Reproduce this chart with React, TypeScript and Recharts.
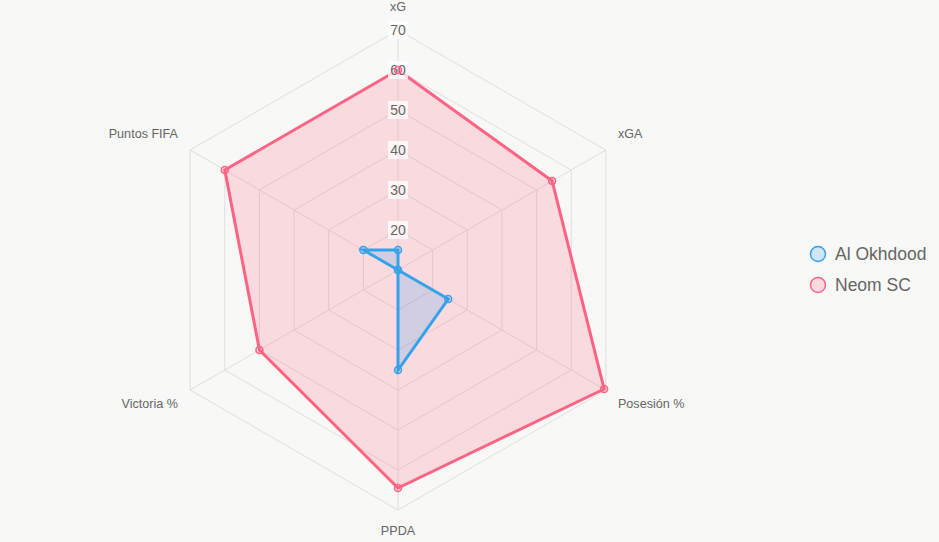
import React from 'react';
import { RadarChart, Radar, PolarGrid, PolarAngleAxis, PolarRadiusAxis } from 'recharts';

const metrics = ['xG', 'xGA', 'Posesión %', 'PPDA', 'Victoria %', 'Puntos FIFA'];
const alOkhdood = [15, 10, 24.5, 35, 10, 20];
const neomSC = [60, 54.5, 69.5, 64.5, 50, 60];
const radiusTicks = [10, 20, 30, 40, 50, 60, 70];
const seriesNames = ['Al Okhdood', 'Neom SC'];
const seriesColors = ['54,162,235', '255,99,132'];

const data = metrics.map((m, i) => ({ metric: m, alOkhdood: alOkhdood[i], neom: neomSC[i] }));

const W = 939;
const H = 542;
const CX = 398;
const CY = 270;
const R = 240;

const AngleTick = (props: any) => {
  const { payload } = props;
  const ang = (payload.coordinate * Math.PI) / 180;
  const d = R + 14;
  const c = Math.cos(ang);
  const s = Math.sin(ang);
  const px = CX + d * c;
  const py = CY - d * s;
  const anchor = Math.abs(c) < 0.01 ? 'middle' : c > 0 ? 'start' : 'end';
  const ty = s > 0.01 ? py - 9.5 : s < -0.01 ? py + 7 : py;
  return (
    <text x={px} y={ty} textAnchor={anchor} dominantBaseline="central" fill="#666" fontSize={12.6} fontFamily="Liberation Sans, Arial, sans-serif">
      {payload.value}
    </text>
  );
};

const RadiusTick = (props: any) => {
  const { x, y, payload } = props;
  if (payload.value === radiusTicks[0]) return <g />;
  const label = String(payload.value);
  const w = label.length * 8 + 4;
  return (
    <g>
      <rect x={x - w / 2} y={y - 9} width={w} height={18} fill="rgba(255,255,255,0.75)" />
      <text x={x} y={y} textAnchor="middle" dominantBaseline="central" fill="#666" fontSize={14} fontFamily="Liberation Sans, Arial, sans-serif">
        {label}
      </text>
    </g>
  );
};

const makeDot = (rgb: string) => (props: any) => {
  const { cx, cy, key } = props;
  return <circle key={key} cx={cx} cy={cy} r={3.5} fill={`rgba(${rgb},0.2)`} stroke={`rgb(${rgb})`} strokeWidth={1.5} />;
};

export default function App() {
  return (
    <div style={{ position: 'fixed', left: 0, top: 0, width: W, height: H, background: '#f8f8f7', fontFamily: 'Liberation Sans, Arial, sans-serif' }}>
      <RadarChart width={W} height={H} data={data} cx={CX} cy={CY} outerRadius={R} margin={{ top: 0, right: 0, bottom: 0, left: 0 }}>
        <PolarGrid gridType="polygon" stroke="#dedede" strokeWidth={1} />
        <PolarAngleAxis dataKey="metric" tick={<AngleTick />} tickLine={false} axisLine={false} />
        <PolarRadiusAxis angle={90} domain={[10, 70]} ticks={radiusTicks} tickCount={7} axisLine={false} tickLine={false} tick={<RadiusTick />} />
        <Radar
          name={seriesNames[1]}
          dataKey="neom"
          stroke={`rgb(${seriesColors[1]})`}
          strokeWidth={3}
          fill={`rgb(${seriesColors[1]})`}
          fillOpacity={0.2}
          dot={makeDot(seriesColors[1])}
          isAnimationActive={false}
        />
        <Radar
          name={seriesNames[0]}
          dataKey="alOkhdood"
          stroke={`rgb(${seriesColors[0]})`}
          strokeWidth={3}
          fill={`rgb(${seriesColors[0]})`}
          fillOpacity={0.2}
          dot={makeDot(seriesColors[0])}
          isAnimationActive={false}
        />
      </RadarChart>
      <svg style={{ position: 'absolute', left: 800, top: 235 }} width={139} height={70}>
        {seriesNames.map((n, i) => (
          <g key={n}>
            <circle cx={18} cy={19 + i * 31} r={7.5} fill={`rgba(${seriesColors[i]},0.2)`} stroke={`rgb(${seriesColors[i]})`} strokeWidth={1.5} />
            <text x={35} y={19 + i * 31} dominantBaseline="central" fill="#666" fontSize={17.5} fontFamily="Liberation Sans, Arial, sans-serif">
              {n}
            </text>
          </g>
        ))}
      </svg>
    </div>
  );
}
